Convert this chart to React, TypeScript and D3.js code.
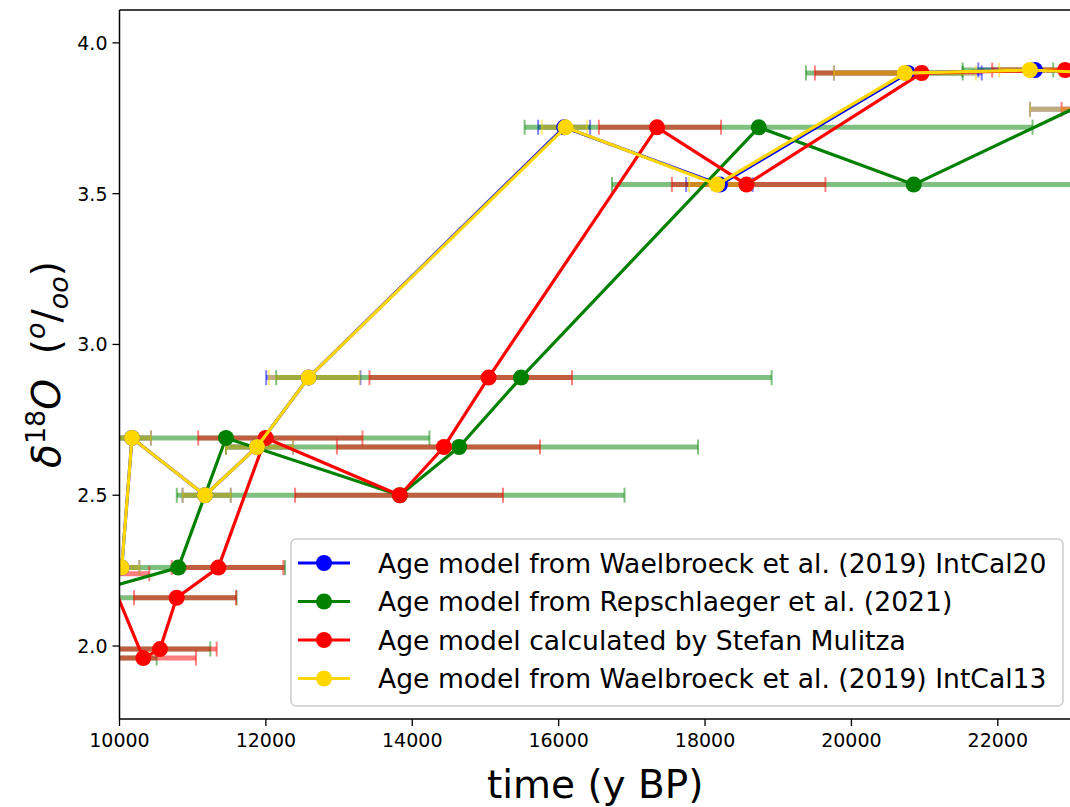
import React from 'react';
import * as d3 from 'd3';

const W = 1070;
const H = 807;
const X_DOMAIN: [number, number] = [10000, 23000];
const Y_DOMAIN: [number, number] = [1.758, 4.109];
const xTicks = [10000, 12000, 14000, 16000, 18000, 20000, 22000];
const yTicks = [2.0, 2.5, 3.0, 3.5, 4.0];

// Age model from Waelbroeck et al. (2019) IntCal20 (blue)
const blueX = [10030, 10171, 11168, 11878, 12582, 16075, 18203, 20771, 22507, 23400, 24200];
const blueY = [2.26, 2.69, 2.50, 2.66, 2.89, 3.72, 3.53, 3.90, 3.91, 3.90, 3.78];
const blueBarY = [2.26, 2.69, 2.50, 2.66, 2.89, 3.72, 3.53, 3.90, 3.91, 3.78];
const blueBarLo = [9790, 9908, 10862, 11455, 12004, 15720, 17742, 19761, 21733, 22440];
const blueBarHi = [10271, 10430, 11520, 12370, 13292, 16430, 18650, 21780, 23280, 25960];

// Age model from Repschlaeger et al. (2021) (green)
const greenX = [8000, 8500, 9350, 10804, 11455, 13830, 14640, 15485, 18735, 20851, 24060];
const greenY = [1.96, 1.99, 2.16, 2.26, 2.69, 2.50, 2.66, 2.89, 3.72, 3.53, 3.90];
const greenBarY = [1.96, 1.99, 2.16, 2.26, 2.69, 2.50, 2.66, 2.89, 3.72, 3.53, 3.90, 3.91];
const greenBarLo = [5492, 5760, 7100, 9347, 8675, 10783, 11455, 12141, 15535, 16728, 19378, 21519];
const greenBarHi = [10508, 11240, 11600, 12261, 14235, 16900, 17905, 18910, 22475, 24974, 21519, 22757];

// Age model calculated by Stefan Mulitza (red)
const redX = [9846, 10325, 10553, 10781, 11350, 11997, 13830, 14433, 15042, 17344, 18566, 20958, 22921, 23500];
const redY = [2.24, 1.96, 1.99, 2.16, 2.26, 2.69, 2.50, 2.66, 2.89, 3.72, 3.53, 3.90, 3.91, 3.90];
const redBarY = [2.24, 1.96, 1.99, 2.16, 2.26, 2.69, 2.50, 2.66, 2.89, 3.72, 3.53, 3.90, 3.91, 3.78];
const redBarLo = [9285, 9605, 9778, 10198, 10713, 11075, 12399, 12970, 13415, 16549, 17547, 19501, 21923, 22871];
const redBarHi = [10407, 11045, 11328, 11592, 12238, 13320, 15240, 15745, 16182, 18219, 19645, 21013, 23920, 25200];

// Age model from Waelbroeck et al. (2019) IntCal13 (yellow)
const yellowX = [10030, 10171, 11168, 11878, 12582, 16093, 18164, 20730, 22439, 23400, 24200];
const yellowY = [2.26, 2.69, 2.50, 2.66, 2.89, 3.72, 3.53, 3.90, 3.91, 3.90, 3.78];
const yellowBarY = [2.26, 2.69, 2.50, 2.66, 2.89, 3.72, 3.53, 3.90, 3.91, 3.78];
const yellowBarLo = [9790, 9908, 10862, 11455, 12040, 15770, 17781, 19761, 22019, 22440];
const yellowBarHi = [10271, 10430, 11520, 12370, 13280, 16390, 18616, 21700, 22860, 25960];

const legendLabels = [
  'Age model from Waelbroeck et al. (2019) IntCal20',
  'Age model from Repschlaeger et al. (2021)',
  'Age model calculated by Stefan Mulitza',
  'Age model from Waelbroeck et al. (2019) IntCal13',
];
const seriesColors = ['#0000ff', '#008000', '#ff0000', '#ffd700'];

const PLOT = { left: 119.5, right: 1071, top: 10, bottom: 719 };
const FONT = 'DejaVu Sans, Verdana, sans-serif';

export default function App() {
  const x = d3.scaleLinear().domain(X_DOMAIN).range([PLOT.left, PLOT.right]);
  const y = d3.scaleLinear().domain(Y_DOMAIN).range([PLOT.bottom, PLOT.top]);

  const series = [
    { xs: blueX, ys: blueY, by: blueBarY, lo: blueBarLo, hi: blueBarHi, color: seriesColors[0] },
    { xs: greenX, ys: greenY, by: greenBarY, lo: greenBarLo, hi: greenBarHi, color: seriesColors[1] },
    { xs: redX, ys: redY, by: redBarY, lo: redBarLo, hi: redBarHi, color: seriesColors[2] },
    { xs: yellowX, ys: yellowY, by: yellowBarY, lo: yellowBarLo, hi: yellowBarHi, color: seriesColors[3] },
  ];

  const line = d3
    .line<[number, number]>()
    .x((d) => x(d[0]))
    .y((d) => y(d[1]));

  const capH = 7.5;
  const markerR = 8;
  const lineW = 3.2;
  const tickFont = 19;

  return (
    <svg
      width={W}
      height={H}
      style={{ position: 'absolute', left: 0, top: 0, background: '#fff' }}
      fontFamily={FONT}
    >
      <defs>
        <clipPath id="plotclip">
          <rect x={PLOT.left} y={PLOT.top} width={PLOT.right - PLOT.left} height={PLOT.bottom - PLOT.top} />
        </clipPath>
      </defs>
      <rect x={0} y={0} width={W} height={H} fill="#fff" />

      <g clipPath="url(#plotclip)">
        {/* error bars */}
        {series.map((s, si) => (
          <g key={'bars' + si}>
            {s.by.map((yy, i) => (
              <g key={i}>
                <line
                  x1={x(s.lo[i])}
                  x2={x(s.hi[i])}
                  y1={y(yy)}
                  y2={y(yy)}
                  stroke={s.color}
                  strokeOpacity={0.5}
                  strokeWidth={5}
                />
                <line
                  x1={x(s.lo[i])}
                  x2={x(s.lo[i])}
                  y1={y(yy) - capH}
                  y2={y(yy) + capH}
                  stroke={s.color}
                  strokeOpacity={0.5}
                  strokeWidth={2}
                />
                <line
                  x1={x(s.hi[i])}
                  x2={x(s.hi[i])}
                  y1={y(yy) - capH}
                  y2={y(yy) + capH}
                  stroke={s.color}
                  strokeOpacity={0.5}
                  strokeWidth={2}
                />
              </g>
            ))}
          </g>
        ))}
        {/* lines and markers */}
        {series.map((s, si) => {
          const pts: [number, number][] = s.xs.map((v, i) => [v, s.ys[i]]);
          return (
            <g key={'ln' + si}>
              <path d={line(pts) || ''} fill="none" stroke={s.color} strokeWidth={lineW} strokeLinejoin="round" />
              {pts.map((p, i) => (
                <circle key={i} cx={x(p[0])} cy={y(p[1])} r={markerR} fill={s.color} />
              ))}
            </g>
          );
        })}
      </g>

      {/* spines */}
      <line x1={PLOT.left} x2={PLOT.left} y1={PLOT.top} y2={PLOT.bottom} stroke="#000" strokeWidth={1.5} />
      <line x1={PLOT.left} x2={PLOT.right} y1={PLOT.bottom} y2={PLOT.bottom} stroke="#000" strokeWidth={1.5} />
      <line x1={PLOT.left} x2={PLOT.right} y1={PLOT.top} y2={PLOT.top} stroke="#000" strokeWidth={1.5} />

      {/* x ticks */}
      {xTicks.map((t) => (
        <g key={'xt' + t}>
          <line x1={x(t)} x2={x(t)} y1={PLOT.bottom} y2={PLOT.bottom + 7} stroke="#000" strokeWidth={1.3} />
          <text x={x(t)} y={PLOT.bottom + 28} textAnchor="middle" fontSize={tickFont} fill="#000">
            {t}
          </text>
        </g>
      ))}
      {/* y ticks */}
      {yTicks.map((t) => (
        <g key={'yt' + t}>
          <line x1={PLOT.left - 7} x2={PLOT.left} y1={y(t)} y2={y(t)} stroke="#000" strokeWidth={1.3} />
          <text x={PLOT.left - 12} y={y(t) + 7} textAnchor="end" fontSize={tickFont} fill="#000">
            {d3.format('.1f')(t)}
          </text>
        </g>
      ))}

      {/* axis labels */}
      <text x={(PLOT.left + PLOT.right) / 2} y={798} textAnchor="middle" fontSize={39} fill="#000">
        time (y BP)
      </text>
      <text
        transform={`translate(60, ${(PLOT.top + PLOT.bottom) / 2}) rotate(-90)`}
        textAnchor="middle"
        fontSize={39}
        fill="#000"
      >
        <tspan fontStyle="italic">δ</tspan>
        <tspan fontSize={27} dy={-15}>18</tspan>
        <tspan dy={15} fontStyle="italic">O</tspan>
        <tspan>{'\u00a0\u00a0('}</tspan>
        <tspan fontSize={27} dy={-15} fontStyle="italic">o</tspan>
        <tspan dy={15}>/</tspan>
        <tspan fontSize={27} dy={8} fontStyle="italic">oo</tspan>
        <tspan dy={-8}>)</tspan>
      </text>

      {/* legend */}
      <g>
        <rect x={291} y={539} width={772} height={167} rx={5} fill="#fff" fillOpacity={0.8} stroke="#cccccc" strokeWidth={1.5} />
        {legendLabels.map((lab, i) => {
          const ry = 563 + i * 38.5;
          return (
            <g key={'lg' + i}>
              <line x1={298} x2={350} y1={ry} y2={ry} stroke={seriesColors[i]} strokeWidth={lineW} />
              <circle cx={324} cy={ry} r={markerR} fill={seriesColors[i]} />
              <text x={378} y={ry + 9.5} fontSize={26.6} fill="#000">
                {lab}
              </text>
            </g>
          );
        })}
      </g>
    </svg>
  );
}
